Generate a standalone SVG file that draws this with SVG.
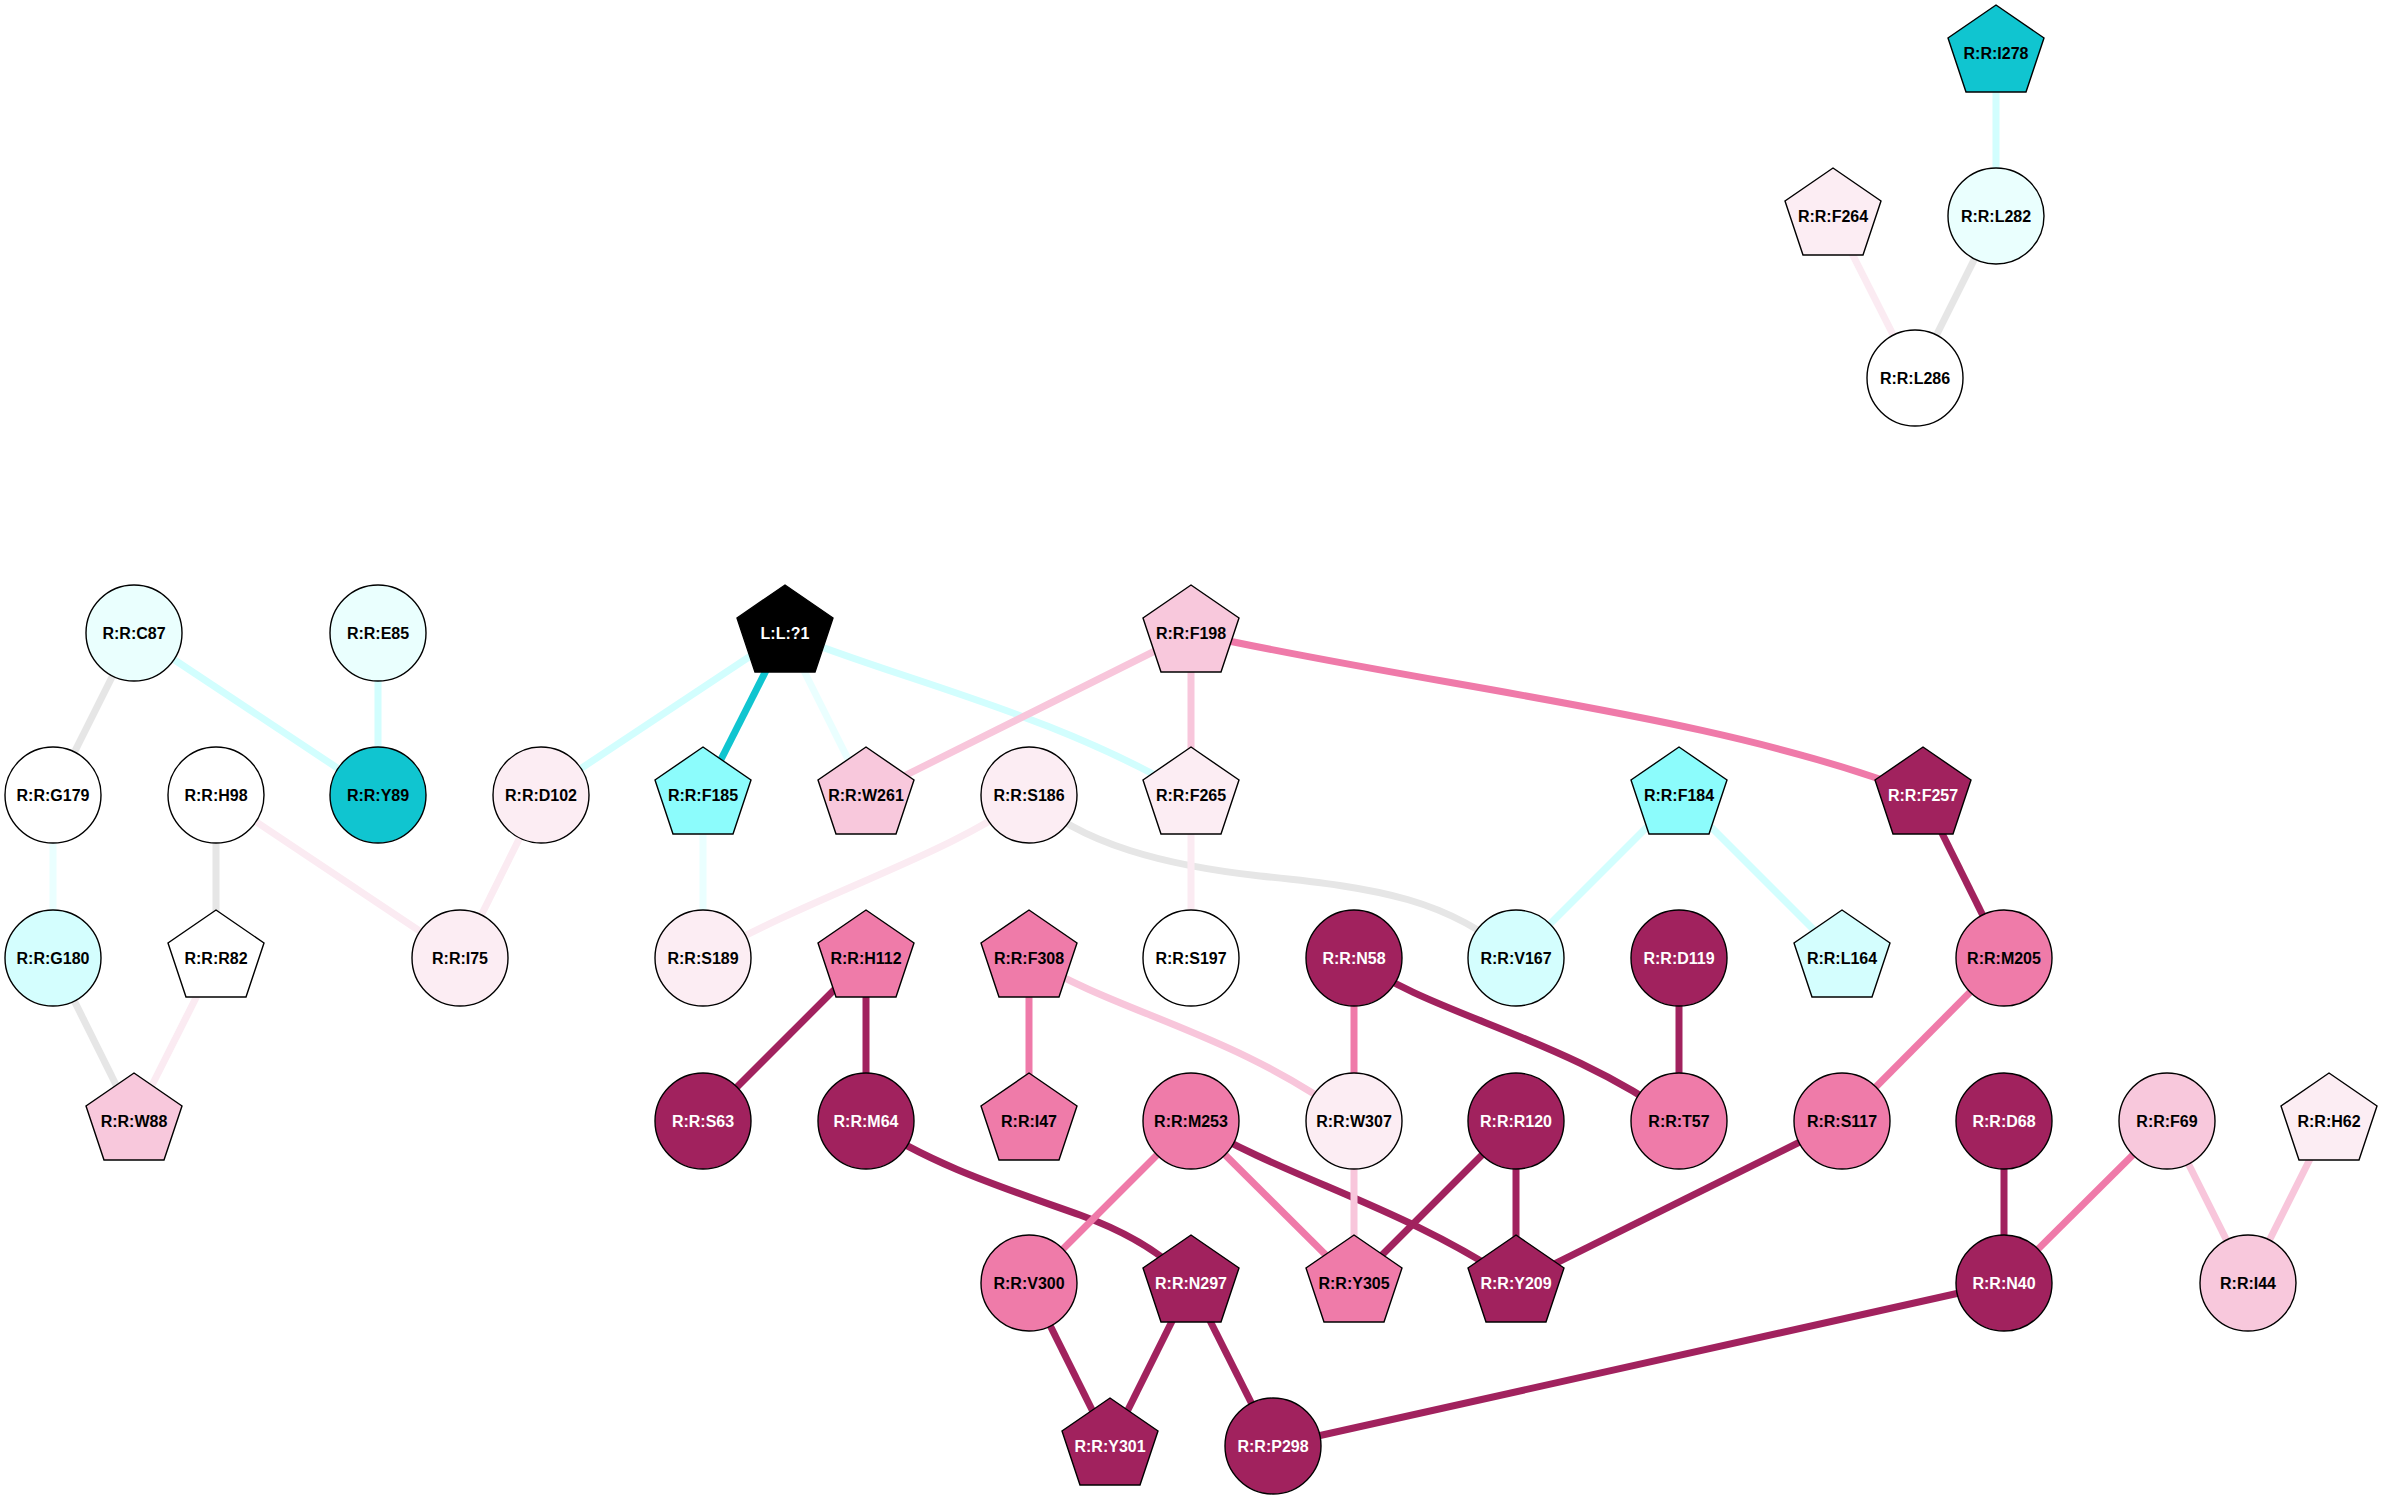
<svg xmlns="http://www.w3.org/2000/svg" width="2384" height="1500" viewBox="0 0 2384 1500">
<style>
.e{fill:none;stroke-width:7;stroke-linecap:butt}
.gy{stroke:#e6e6e6}.c1{stroke:#eaffff}.c2{stroke:#d2fefe}.c3{stroke:#10c5d0}
.p1{stroke:#fbebf2}.p2{stroke:#f8c6db}.p3{stroke:#ef7aa9}.p4{stroke:#a1225e}
.n circle,.n use{stroke:#000;stroke-width:1.4}
.fw{fill:#fff}.fc1{fill:#eafffe}.fc2{fill:#d4fefe}.fa{fill:#8cfcfc}.fc3{fill:#10c5d0}
.fp1{fill:#fcedf3}.fp2{fill:#f8c8dc}.fp3{fill:#ef7ba9}.fp4{fill:#a1225e}.fk{fill:#000}
text{font-family:"Liberation Sans",Arial,sans-serif;font-weight:bold;font-size:16px;text-anchor:middle;fill:#000}
text.w{fill:#fff}
</style>
<defs>
<polygon id="pent" points="0,-48 48,-15 30,39 -30,39 -48,-15"/>
</defs>
<rect width="2384" height="1500" fill="#fff"/>
<g id="connectors">
<line class="e c2" x1="1996" y1="53" x2="1996" y2="216"/>
<line class="e gy" x1="1996" y1="216" x2="1915" y2="378"/>
<line class="e p1" x1="1833" y1="216" x2="1915" y2="378"/>
<line class="e gy" x1="134" y1="633" x2="53" y2="795"/>
<line class="e c2" x1="134" y1="633" x2="378" y2="795"/>
<line class="e c2" x1="378" y1="633" x2="378" y2="795"/>
<line class="e c1" x1="53" y1="795" x2="53" y2="958"/>
<line class="e gy" x1="53" y1="958" x2="134" y2="1121"/>
<line class="e gy" x1="216" y1="795" x2="216" y2="958"/>
<line class="e p1" x1="216" y1="958" x2="134" y2="1121"/>
<line class="e p1" x1="216" y1="795" x2="460" y2="958"/>
<line class="e p1" x1="541" y1="795" x2="460" y2="958"/>
<line class="e c2" x1="785" y1="633" x2="541" y2="795"/>
<line class="e c3" x1="785" y1="633" x2="703" y2="795"/>
<line class="e c1" x1="785" y1="633" x2="866" y2="795"/>
<path class="e c2" d="M785,633 C900,680 1050,712 1191,795"/>
<line class="e c1" x1="703" y1="795" x2="703" y2="958"/>
<path class="e p1" d="M1029,795 C950,855 820,892 703,958"/>
<path class="e gy" d="M1029,795 C1080,845 1170,866 1260,876 C1380,888 1450,900 1516,958"/>
<line class="e p2" x1="1191" y1="633" x2="866" y2="795"/>
<line class="e p2" x1="1191" y1="633" x2="1191" y2="795"/>
<path class="e p3" d="M1191,633 C1450,690 1720,715 1923,795"/>
<line class="e p1" x1="1191" y1="795" x2="1191" y2="958"/>
<line class="e c2" x1="1679" y1="795" x2="1516" y2="958"/>
<line class="e c2" x1="1679" y1="795" x2="1842" y2="958"/>
<line class="e p4" x1="1923" y1="795" x2="2004" y2="958"/>
<line class="e p3" x1="2004" y1="958" x2="1842" y2="1121"/>
<line class="e p4" x1="866" y1="958" x2="703" y2="1121"/>
<line class="e p4" x1="866" y1="958" x2="866" y2="1121"/>
<line class="e p3" x1="1029" y1="958" x2="1029" y2="1121"/>
<path class="e p2" d="M1029,958 C1120,1015 1230,1030 1354,1121"/>
<line class="e p3" x1="1354" y1="958" x2="1354" y2="1121"/>
<path class="e p4" d="M1354,958 C1430,1015 1560,1035 1679,1121"/>
<line class="e p4" x1="1679" y1="958" x2="1679" y2="1121"/>
<path class="e p4" d="M866,1121 C930,1165 1010,1190 1080,1215 C1130,1233 1165,1255 1191,1283"/>
<line class="e p3" x1="1191" y1="1121" x2="1029" y2="1283"/>
<line class="e p3" x1="1191" y1="1121" x2="1354" y2="1283"/>
<path class="e p4" d="M1191,1121 C1290,1180 1400,1205 1516,1283"/>
<line class="e p2" x1="1354" y1="1121" x2="1354" y2="1283"/>
<line class="e p4" x1="1516" y1="1121" x2="1354" y2="1283"/>
<line class="e p4" x1="1516" y1="1121" x2="1516" y2="1283"/>
<line class="e p4" x1="1842" y1="1121" x2="1516" y2="1283"/>
<line class="e p4" x1="2004" y1="1121" x2="2004" y2="1283"/>
<line class="e p3" x1="2167" y1="1121" x2="2004" y2="1283"/>
<line class="e p2" x1="2167" y1="1121" x2="2248" y2="1283"/>
<line class="e p2" x1="2329" y1="1121" x2="2248" y2="1283"/>
<line class="e p4" x1="1029" y1="1283" x2="1110" y2="1446"/>
<line class="e p4" x1="1191" y1="1283" x2="1110" y2="1446"/>
<line class="e p4" x1="1191" y1="1283" x2="1273" y2="1446"/>
<line class="e p4" x1="2004" y1="1283" x2="1273" y2="1446"/>
</g>
<g id="n-I278" class="n" transform="translate(1996,53)"><use href="#pent" class="fc3"/><text y="5.5">R:R:I278</text></g>
<g id="n-F264" class="n" transform="translate(1833,216)"><use href="#pent" class="fp1"/><text y="5.5">R:R:F264</text></g>
<g id="n-L282" class="n" transform="translate(1996,216)"><circle r="48" class="fc1"/><text y="5.5">R:R:L282</text></g>
<g id="n-L286" class="n" transform="translate(1915,378)"><circle r="48" class="fw"/><text y="5.5">R:R:L286</text></g>
<g id="n-C87" class="n" transform="translate(134,633)"><circle r="48" class="fc1"/><text y="5.5">R:R:C87</text></g>
<g id="n-E85" class="n" transform="translate(378,633)"><circle r="48" class="fc1"/><text y="5.5">R:R:E85</text></g>
<g id="n-L1" class="n" transform="translate(785,633)"><use href="#pent" class="fk"/><text y="5.5" class="w">L:L:?1</text></g>
<g id="n-F198" class="n" transform="translate(1191,633)"><use href="#pent" class="fp2"/><text y="5.5">R:R:F198</text></g>
<g id="n-G179" class="n" transform="translate(53,795)"><circle r="48" class="fw"/><text y="5.5">R:R:G179</text></g>
<g id="n-H98" class="n" transform="translate(216,795)"><circle r="48" class="fw"/><text y="5.5">R:R:H98</text></g>
<g id="n-Y89" class="n" transform="translate(378,795)"><circle r="48" class="fc3"/><text y="5.5">R:R:Y89</text></g>
<g id="n-D102" class="n" transform="translate(541,795)"><circle r="48" class="fp1"/><text y="5.5">R:R:D102</text></g>
<g id="n-F185" class="n" transform="translate(703,795)"><use href="#pent" class="fa"/><text y="5.5">R:R:F185</text></g>
<g id="n-W261" class="n" transform="translate(866,795)"><use href="#pent" class="fp2"/><text y="5.5">R:R:W261</text></g>
<g id="n-S186" class="n" transform="translate(1029,795)"><circle r="48" class="fp1"/><text y="5.5">R:R:S186</text></g>
<g id="n-F265" class="n" transform="translate(1191,795)"><use href="#pent" class="fp1"/><text y="5.5">R:R:F265</text></g>
<g id="n-F184" class="n" transform="translate(1679,795)"><use href="#pent" class="fa"/><text y="5.5">R:R:F184</text></g>
<g id="n-F257" class="n" transform="translate(1923,795)"><use href="#pent" class="fp4"/><text y="5.5" class="w">R:R:F257</text></g>
<g id="n-G180" class="n" transform="translate(53,958)"><circle r="48" class="fc2"/><text y="5.5">R:R:G180</text></g>
<g id="n-R82" class="n" transform="translate(216,958)"><use href="#pent" class="fw"/><text y="5.5">R:R:R82</text></g>
<g id="n-I75" class="n" transform="translate(460,958)"><circle r="48" class="fp1"/><text y="5.5">R:R:I75</text></g>
<g id="n-S189" class="n" transform="translate(703,958)"><circle r="48" class="fp1"/><text y="5.5">R:R:S189</text></g>
<g id="n-H112" class="n" transform="translate(866,958)"><use href="#pent" class="fp3"/><text y="5.5">R:R:H112</text></g>
<g id="n-F308" class="n" transform="translate(1029,958)"><use href="#pent" class="fp3"/><text y="5.5">R:R:F308</text></g>
<g id="n-S197" class="n" transform="translate(1191,958)"><circle r="48" class="fw"/><text y="5.5">R:R:S197</text></g>
<g id="n-N58" class="n" transform="translate(1354,958)"><circle r="48" class="fp4"/><text y="5.5" class="w">R:R:N58</text></g>
<g id="n-V167" class="n" transform="translate(1516,958)"><circle r="48" class="fc2"/><text y="5.5">R:R:V167</text></g>
<g id="n-D119" class="n" transform="translate(1679,958)"><circle r="48" class="fp4"/><text y="5.5" class="w">R:R:D119</text></g>
<g id="n-L164" class="n" transform="translate(1842,958)"><use href="#pent" class="fc2"/><text y="5.5">R:R:L164</text></g>
<g id="n-M205" class="n" transform="translate(2004,958)"><circle r="48" class="fp3"/><text y="5.5">R:R:M205</text></g>
<g id="n-W88" class="n" transform="translate(134,1121)"><use href="#pent" class="fp2"/><text y="5.5">R:R:W88</text></g>
<g id="n-S63" class="n" transform="translate(703,1121)"><circle r="48" class="fp4"/><text y="5.5" class="w">R:R:S63</text></g>
<g id="n-M64" class="n" transform="translate(866,1121)"><circle r="48" class="fp4"/><text y="5.5" class="w">R:R:M64</text></g>
<g id="n-I47" class="n" transform="translate(1029,1121)"><use href="#pent" class="fp3"/><text y="5.5">R:R:I47</text></g>
<g id="n-M253" class="n" transform="translate(1191,1121)"><circle r="48" class="fp3"/><text y="5.5">R:R:M253</text></g>
<g id="n-W307" class="n" transform="translate(1354,1121)"><circle r="48" class="fp1"/><text y="5.5">R:R:W307</text></g>
<g id="n-R120" class="n" transform="translate(1516,1121)"><circle r="48" class="fp4"/><text y="5.5" class="w">R:R:R120</text></g>
<g id="n-T57" class="n" transform="translate(1679,1121)"><circle r="48" class="fp3"/><text y="5.5">R:R:T57</text></g>
<g id="n-S117" class="n" transform="translate(1842,1121)"><circle r="48" class="fp3"/><text y="5.5">R:R:S117</text></g>
<g id="n-D68" class="n" transform="translate(2004,1121)"><circle r="48" class="fp4"/><text y="5.5" class="w">R:R:D68</text></g>
<g id="n-F69" class="n" transform="translate(2167,1121)"><circle r="48" class="fp2"/><text y="5.5">R:R:F69</text></g>
<g id="n-H62" class="n" transform="translate(2329,1121)"><use href="#pent" class="fp1"/><text y="5.5">R:R:H62</text></g>
<g id="n-V300" class="n" transform="translate(1029,1283)"><circle r="48" class="fp3"/><text y="5.5">R:R:V300</text></g>
<g id="n-N297" class="n" transform="translate(1191,1283)"><use href="#pent" class="fp4"/><text y="5.5" class="w">R:R:N297</text></g>
<g id="n-Y305" class="n" transform="translate(1354,1283)"><use href="#pent" class="fp3"/><text y="5.5">R:R:Y305</text></g>
<g id="n-Y209" class="n" transform="translate(1516,1283)"><use href="#pent" class="fp4"/><text y="5.5" class="w">R:R:Y209</text></g>
<g id="n-N40" class="n" transform="translate(2004,1283)"><circle r="48" class="fp4"/><text y="5.5" class="w">R:R:N40</text></g>
<g id="n-I44" class="n" transform="translate(2248,1283)"><circle r="48" class="fp2"/><text y="5.5">R:R:I44</text></g>
<g id="n-Y301" class="n" transform="translate(1110,1446)"><use href="#pent" class="fp4"/><text y="5.5" class="w">R:R:Y301</text></g>
<g id="n-P298" class="n" transform="translate(1273,1446)"><circle r="48" class="fp4"/><text y="5.5" class="w">R:R:P298</text></g>
</svg>
